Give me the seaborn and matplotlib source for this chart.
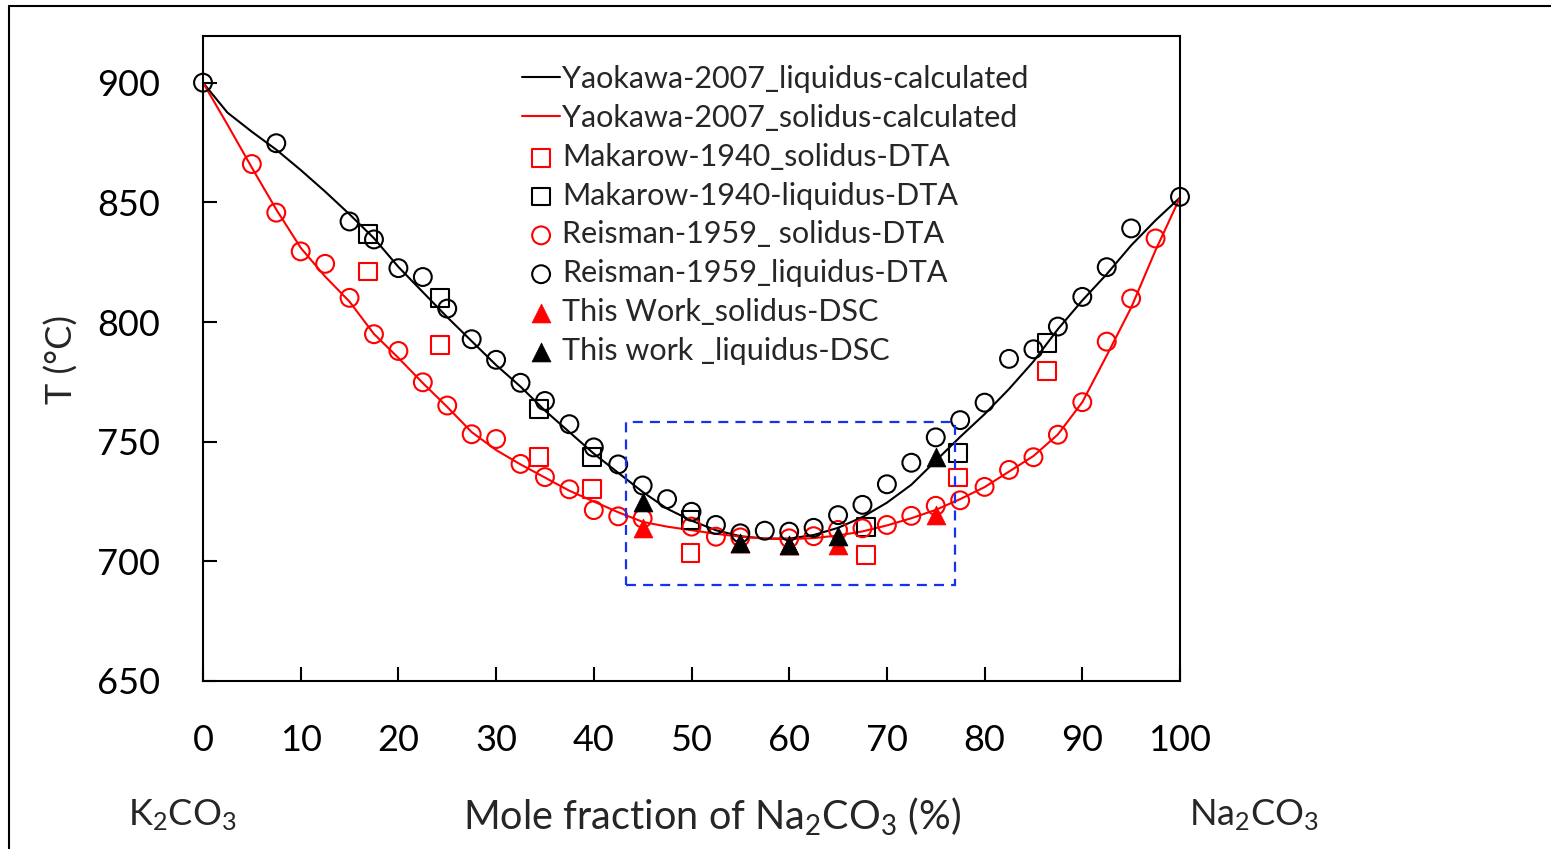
import matplotlib
matplotlib.use("Agg")
import matplotlib.pyplot as plt
from matplotlib.lines import Line2D
from matplotlib.patches import Rectangle
import seaborn as sns

# Calculated phase boundaries (Yaokawa 2007)
calc_x = [0, 2.5, 5, 7.5, 10, 12.5, 15, 17.5, 20, 22.5, 25, 27.5, 30, 32.5, 35,
          37.5, 40, 42.5, 45, 47.5, 50, 52.5, 55, 57.5, 60, 62.5, 65, 67.5, 70,
          72.5, 75, 77.5, 80, 82.5, 85, 87.5, 90, 92.5, 95, 97.5, 100]
liquidus_calc = [900, 887.5, 879.5, 872, 863.5, 854.5, 845, 835, 823, 812.5, 802,
                 792, 782, 773, 763, 754, 745, 737, 729, 722, 717, 713, 710.5,
                 709.5, 709.5, 711, 714, 718.5, 724.5, 732, 742, 752, 761.5, 772,
                 783.5, 797, 809, 820, 832, 842.5, 852]
solidus_calc = [900, 882.5, 864.5, 847, 831, 819, 808.5, 795, 785, 774.5, 764.5,
                754, 746.5, 740.5, 735, 729.5, 725, 720.5, 716.5, 714.5, 713,
                711.5, 710.3, 709.5, 709.3, 709.7, 710.8, 712.5, 715, 718, 721.5,
                726, 731, 737.5, 744, 753, 766.5, 786, 806, 830, 852]

# Makarow 1940, DTA
makarow_x = [16.9, 24.3, 34.4, 39.8, 49.9, 67.9, 77.3, 86.4]
makarow_solidus = [821.1, 790.4, 743.5, 730.3, 703.4, 702.7, 735.0, 779.7]
makarow_liquidus = [836.7, 810.1, 763.5, 743.5, 717.2, 714.5, 745.1, 791.1]

# Reisman 1959, DTA
reisman_sol_x = [5, 7.5, 10, 12.5, 15, 17.5, 20, 22.5, 25, 27.5, 30, 32.5, 35,
                 37.5, 40, 42.5, 45, 50, 52.5, 55, 60, 62.5, 65, 67.5, 70, 72.5,
                 75, 77.5, 80, 82.5, 85, 87.5, 90, 92.5, 95, 97.5]
reisman_solidus = [866.0, 845.7, 829.5, 824.3, 810.1, 794.9, 787.9, 774.8, 765.1,
                   753.1, 751.1, 740.7, 735.2, 730.1, 721.4, 718.8, 717.9, 714.5,
                   710.3, 710.0, 709.6, 710.5, 713.1, 713.8, 715.2, 719.0, 723.2,
                   725.5, 731.1, 738.2, 743.5, 752.9, 766.5, 791.8, 809.8, 834.9]
reisman_liq_x = [0, 7.5, 15, 17.5, 20, 22.5, 25, 27.5, 30, 32.5, 35, 37.5, 40,
                 42.5, 45, 47.5, 50, 52.5, 55, 57.5, 60, 62.5, 65, 67.5, 70, 72.5,
                 75, 77.5, 80, 82.5, 85, 87.5, 90, 92.5, 95, 100]
reisman_liquidus = [900, 874.7, 842.0, 834.5, 822.5, 818.8, 805.6, 792.8, 784.2,
                    774.6, 767.0, 757.3, 747.6, 740.5, 731.7, 726.0, 720.7, 715.2,
                    711.7, 712.8, 712.4, 714.0, 719.3, 723.6, 732.2, 741.2, 751.8,
                    759.0, 766.3, 784.6, 788.6, 798.1, 810.5, 822.9, 839.1, 852.3]

# This work, DSC
tw_x = [45, 55, 60, 65, 75]
tw_solidus = [713.8, 707.7, 707.0, 707.0, 719.3]
tw_liquidus = [724.8, 707.7, 707.0, 710.6, 743.5]

labels = ["Yaokawa-2007_liquidus-calculated",
          "Yaokawa-2007_solidus-calculated",
          "Makarow-1940_solidus-DTA",
          "Makarow-1940-liquidus-DTA",
          "Reisman-1959_ solidus-DTA",
          "Reisman-1959_liquidus-DTA",
          "This Work_solidus-DSC",
          "This work _liquidus-DSC"]

sns.set_style("ticks")
plt.rcParams["font.family"] = ["Lato", "DejaVu Sans"]
plt.rcParams["mathtext.fontset"] = "custom"
plt.rcParams["mathtext.rm"] = "Lato"
plt.rcParams["mathtext.it"] = "Lato:italic"
plt.rcParams["mathtext.bf"] = "Lato:bold"

W, H = 1551, 849
fig = plt.figure(figsize=(W / 100, H / 100), dpi=100)
fig.patch.set_facecolor("white")
ax = fig.add_axes([203 / W, 1 - 681 / H, (1180 - 203) / W, (681 - 36) / H])

lw = 1.5
sns.lineplot(x=calc_x, y=liquidus_calc, ax=ax, color="black", lw=lw, label=labels[0])
sns.lineplot(x=calc_x, y=solidus_calc, ax=ax, color="red", lw=lw, label=labels[1])

ms = 165
sns.scatterplot(x=makarow_x, y=makarow_solidus, ax=ax, marker="s", s=ms,
                facecolors="none", edgecolor="red", linewidth=lw,
                label=labels[2], clip_on=False, zorder=3)
sns.scatterplot(x=makarow_x, y=makarow_liquidus, ax=ax, marker="s", s=ms,
                facecolors="none", edgecolor="black", linewidth=lw,
                label=labels[3], clip_on=False, zorder=3)
sns.scatterplot(x=reisman_sol_x, y=reisman_solidus, ax=ax, marker="o", s=ms,
                facecolors="none", edgecolor="red", linewidth=lw,
                label=labels[4], clip_on=False, zorder=3)
sns.scatterplot(x=reisman_liq_x, y=reisman_liquidus, ax=ax, marker="o", s=ms,
                facecolors="none", edgecolor="black", linewidth=lw,
                label=labels[5], clip_on=False, zorder=3)
sns.scatterplot(x=tw_x, y=tw_solidus, ax=ax, marker="^", s=185,
                color="red", edgecolor="red", linewidth=0.5,
                label=labels[6], clip_on=False, zorder=4)
sns.scatterplot(x=tw_x, y=tw_liquidus, ax=ax, marker="^", s=185,
                color="black", edgecolor="black", linewidth=0.5,
                label=labels[7], clip_on=False, zorder=4)

# eutectic region outline
ax.add_patch(Rectangle((43.3, 690.3), 77.0 - 43.3, 758.3 - 690.3, fill=False,
                       edgecolor="#1432f0", lw=1.6, ls=(0, (4.5, 3.2)), zorder=5))

ax.set_xlim(0, 100)
ax.set_ylim(650, 919.5)
ax.set_xticks(range(0, 101, 10))
ax.set_yticks(range(650, 901, 50))
ax.tick_params(axis="both", direction="in", length=10, width=lw, pad=31,
               labelsize=26, colors="black", top=False, right=False)
for sp in ax.spines.values():
    sp.set_visible(True)
    sp.set_linewidth(lw)
    sp.set_color("black")
ax.set_xlabel("")
ax.set_ylabel("")

leg = ax.legend(loc="upper left", bbox_to_anchor=(522 / W, 1 - 65 / H),
                bbox_transform=fig.transFigure, frameon=False, fontsize=22,
                borderpad=0, borderaxespad=0, handlelength=1.25,
                handletextpad=0.06, labelspacing=0.355)

fig.text(62 / W, 1 - 360 / H, "T (°C)", rotation=90, ha="center", va="center",
         fontsize=26)
fig.text(712 / W, 1 - 817 / H, "Mole fraction of Na$_2$CO$_3$ (%)",
         ha="center", va="center", fontsize=28.5)
fig.text(182 / W, 1 - 815 / H, "K$_2$CO$_3$", ha="center", va="center", fontsize=26)
fig.text(1254 / W, 1 - 815 / H, "Na$_2$CO$_3$", ha="center", va="center", fontsize=26)

# outer frame
fig.add_artist(Line2D([9 / W, 1], [1 - 6 / H, 1 - 6 / H], transform=fig.transFigure,
                      color="black", lw=1.5))
fig.add_artist(Line2D([9 / W, 9 / W], [0, 1 - 6 / H], transform=fig.transFigure,
                      color="black", lw=1.5))

fig.savefig("out.png", dpi=100, facecolor="white")
